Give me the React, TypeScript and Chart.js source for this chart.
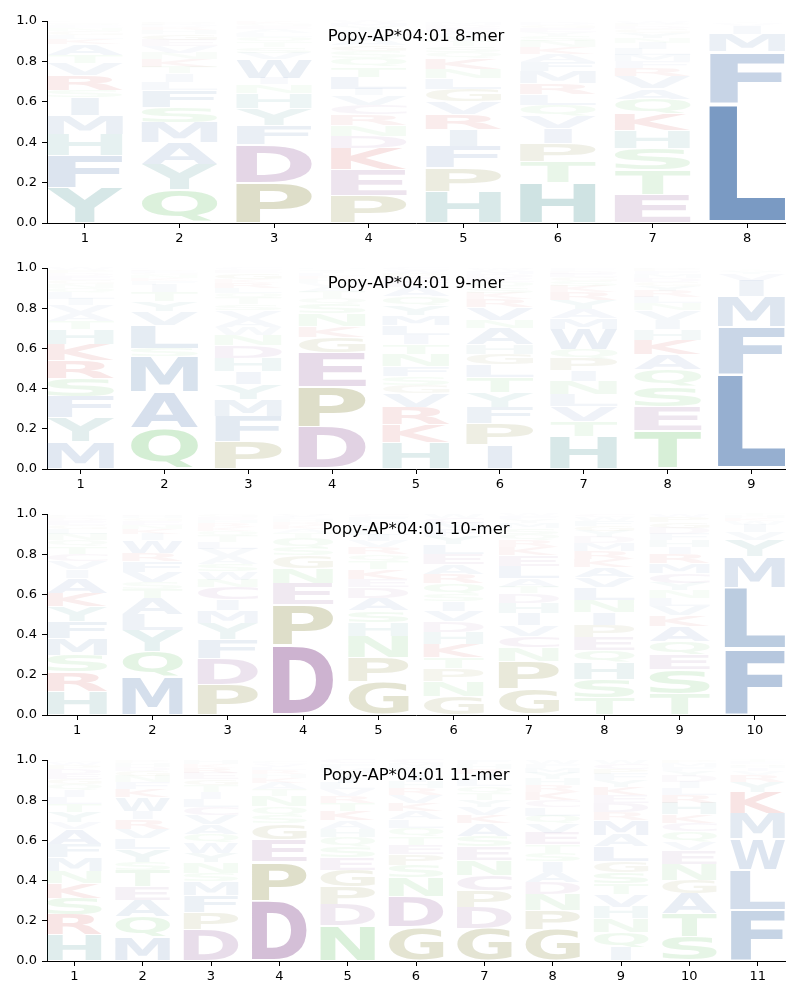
import React, { useEffect, useRef } from "react";
import { Chart, registerables } from "chart.js";

Chart.register(...registerables);

// ---------- data (letters bottom -> top, heights = probabilities) ----------
const yTickValues = [0, 0.2, 0.4, 0.6, 0.8, 1.0];

const mer8Title = "Popy-AP*04:01 8-mer";
const mer8Positions = [1, 2, 3, 4, 5, 6, 7, 8];
const mer8Letters = [
  "YFHMISRVTAKLGNEQDP",
  "QYAMSFLITKNVEGHRDPW",
  "PDFYHNIWVSTQLAEGKR",
  "PEKDNRCVILTQSGAHFYMW",
  "HPFIRVGLNKQSTYAEDMWC",
  "HTPIVQLRMFAKNSYEGDWC",
  "ETSHKQAVRFMLINYGDPWC",
  "LFMIVYW",
];
const mer8Heights = [
  [0.175, 0.16, 0.105, 0.095, 0.085, 0.037, 0.075, 0.058, 0.042, 0.053, 0.025, 0.02, 0.02, 0.015, 0.012, 0.01, 0.008, 0.005],
  [0.163, 0.126, 0.11, 0.1, 0.074, 0.084, 0.042, 0.042, 0.032, 0.037, 0.03, 0.035, 0.03, 0.03, 0.02, 0.015, 0.012, 0.01, 0.008],
  [0.2, 0.19, 0.095, 0.084, 0.074, 0.042, 0.032, 0.095, 0.03, 0.03, 0.025, 0.025, 0.02, 0.018, 0.015, 0.012, 0.01, 0.005],
  [0.137, 0.126, 0.105, 0.063, 0.053, 0.053, 0.047, 0.047, 0.03, 0.062, 0.05, 0.04, 0.035, 0.03, 0.03, 0.025, 0.02, 0.02, 0.015, 0.012],
  [0.158, 0.115, 0.105, 0.084, 0.074, 0.063, 0.063, 0.053, 0.047, 0.053, 0.03, 0.03, 0.025, 0.025, 0.02, 0.018, 0.015, 0.012, 0.005, 0.005],
  [0.2, 0.105, 0.09, 0.074, 0.063, 0.053, 0.053, 0.053, 0.058, 0.047, 0.04, 0.035, 0.03, 0.025, 0.02, 0.02, 0.015, 0.01, 0.005, 0.004],
  [0.142, 0.12, 0.105, 0.09, 0.084, 0.074, 0.05, 0.06, 0.04, 0.035, 0.03, 0.03, 0.03, 0.025, 0.025, 0.02, 0.015, 0.01, 0.01, 0.005],
  [0.595, 0.253, 0.087, 0.042, 0.012, 0.006, 0.005],
];

const mer9Title = "Popy-AP*04:01 9-mer";
const mer9Positions = [1, 2, 3, 4, 5, 6, 7, 8, 9];
const mer9Letters = [
  "MYFSRKHTAVILQNGEDPW",
  "QAMSLVYTIFKNGERD",
  "PFMYIHDNWAVSTQLRKGEC",
  "DPEGKNSQTAVHRLIFM",
  "HKRVGSFNTILMYQAEDPWC",
  "IPFYTLGHANVRKSQEDMWC",
  "HTVLNIPQWMAYRKSGEDFC",
  "TESQAKHIVNLRYGDMFPW",
  "LFMIVYWTC",
];
const mer9Heights = [
  [0.134, 0.12, 0.105, 0.09, 0.09, 0.08, 0.074, 0.042, 0.04, 0.04, 0.03, 0.03, 0.025, 0.02, 0.02, 0.02, 0.015, 0.015, 0.01],
  [0.205, 0.18, 0.173, 0.042, 0.115, 0.068, 0.05, 0.045, 0.037, 0.02, 0.015, 0.015, 0.012, 0.01, 0.008, 0.005],
  [0.137, 0.126, 0.084, 0.074, 0.063, 0.068, 0.063, 0.053, 0.037, 0.042, 0.042, 0.03, 0.03, 0.025, 0.025, 0.025, 0.02, 0.03, 0.015, 0.01],
  [0.21, 0.2, 0.168, 0.079, 0.053, 0.063, 0.047, 0.03, 0.03, 0.025, 0.02, 0.02, 0.015, 0.015, 0.01, 0.008, 0.007],
  [0.13, 0.09, 0.085, 0.07, 0.042, 0.042, 0.05, 0.06, 0.05, 0.045, 0.05, 0.05, 0.05, 0.045, 0.045, 0.025, 0.025, 0.02, 0.015, 0.01],
  [0.12, 0.105, 0.084, 0.074, 0.074, 0.063, 0.053, 0.047, 0.079, 0.042, 0.063, 0.04, 0.03, 0.03, 0.025, 0.02, 0.02, 0.015, 0.01, 0.006],
  [0.163, 0.074, 0.074, 0.058, 0.068, 0.053, 0.058, 0.047, 0.1, 0.053, 0.045, 0.045, 0.04, 0.03, 0.025, 0.02, 0.017, 0.015, 0.01, 0.005],
  [0.19, 0.12, 0.1, 0.084, 0.074, 0.074, 0.053, 0.047, 0.047, 0.035, 0.03, 0.03, 0.025, 0.02, 0.02, 0.02, 0.015, 0.01, 0.006],
  [0.47, 0.24, 0.147, 0.079, 0.032, 0.015, 0.007, 0.005, 0.005],
];

const mer10Title = "Popy-AP*04:01 10-mer";
const mer10Positions = [1, 2, 3, 4, 5, 6, 7, 8, 9, 10];
const mer10Letters = [
  "HRSMFYKAIVCTQNLGEDPW",
  "MQYLATSVFRWIKNEGHDC",
  "PDFYMICNWSAVLTQKRHEG",
  "DPENGSQTAKRHLVC",
  "GPNHSADEKTQRVILYMFC",
  "GNPTKHDVISQRAELYFMCW",
  "GPNCVIHDTALEKRQSMYFW",
  "TSHQEPINLVAKRMDYGFWC",
  "TSEQAKVLNYCMRIHFDGPW",
  "FLMYVIWKHT",
];
const mer10Heights = [
  [0.118, 0.095, 0.084, 0.084, 0.084, 0.074, 0.068, 0.074, 0.042, 0.042, 0.037, 0.037, 0.03, 0.03, 0.025, 0.02, 0.02, 0.015, 0.012, 0.009],
  [0.19, 0.126, 0.105, 0.079, 0.079, 0.047, 0.032, 0.053, 0.053, 0.042, 0.063, 0.03, 0.025, 0.02, 0.02, 0.015, 0.01, 0.006, 0.005],
  [0.152, 0.131, 0.095, 0.079, 0.063, 0.053, 0.063, 0.037, 0.042, 0.037, 0.037, 0.037, 0.035, 0.03, 0.025, 0.02, 0.02, 0.015, 0.015, 0.01],
  [0.35, 0.2, 0.105, 0.074, 0.063, 0.042, 0.047, 0.025, 0.02, 0.02, 0.015, 0.012, 0.01, 0.01, 0.007],
  [0.168, 0.12, 0.105, 0.068, 0.058, 0.063, 0.053, 0.042, 0.047, 0.04, 0.035, 0.035, 0.03, 0.03, 0.025, 0.025, 0.02, 0.02, 0.016],
  [0.095, 0.074, 0.063, 0.053, 0.068, 0.058, 0.053, 0.053, 0.047, 0.037, 0.053, 0.047, 0.047, 0.053, 0.05, 0.04, 0.035, 0.03, 0.025, 0.02],
  [0.13, 0.137, 0.068, 0.058, 0.053, 0.058, 0.053, 0.047, 0.032, 0.042, 0.063, 0.053, 0.04, 0.035, 0.03, 0.03, 0.025, 0.02, 0.015, 0.011],
  [0.084, 0.095, 0.084, 0.058, 0.068, 0.058, 0.063, 0.063, 0.063, 0.05, 0.05, 0.04, 0.04, 0.04, 0.03, 0.03, 0.025, 0.025, 0.02, 0.014],
  [0.105, 0.12, 0.074, 0.068, 0.074, 0.053, 0.047, 0.042, 0.037, 0.037, 0.047, 0.05, 0.045, 0.035, 0.035, 0.03, 0.03, 0.03, 0.025, 0.015],
  [0.33, 0.305, 0.152, 0.084, 0.037, 0.037, 0.02, 0.015, 0.01, 0.01],
];

const mer11Title = "Popy-AP*04:01 11-mer";
const mer11Positions = [1, 2, 3, 4, 5, 6, 7, 8, 9, 10, 11];
const mer11Letters = [
  "HRSKNMFAVYTLIQGEDPWC",
  "MQAETSYLVRIWKFNGDHPC",
  "DPFMSNYWQAVCLITGERKH",
  "DPEGSQNTAKHRLVCF",
  "NDPGESQHAKTRVLIYMFC",
  "GDNSPETQLAKVRHIYFMC",
  "GDPCNESAKVYTQLIRHF",
  "GPNDAISTEVQLCKRHYMFW",
  "IQNHVTSGLAMRDEKYFPCW",
  "STAGNEVQCKHRLIDYFMP",
  "FLWMKYRVIHQET",
];
const mer11Heights = [
  [0.13, 0.1, 0.084, 0.074, 0.058, 0.068, 0.068, 0.074, 0.032, 0.053, 0.04, 0.035, 0.035, 0.03, 0.025, 0.025, 0.025, 0.02, 0.015, 0.009],
  [0.12, 0.1, 0.084, 0.068, 0.079, 0.042, 0.063, 0.053, 0.047, 0.047, 0.042, 0.068, 0.04, 0.035, 0.03, 0.025, 0.02, 0.02, 0.012, 0.005],
  [0.158, 0.084, 0.084, 0.068, 0.042, 0.053, 0.047, 0.053, 0.042, 0.047, 0.047, 0.04, 0.04, 0.035, 0.035, 0.03, 0.03, 0.025, 0.02, 0.02],
  [0.3, 0.195, 0.11, 0.079, 0.042, 0.042, 0.053, 0.035, 0.03, 0.025, 0.02, 0.02, 0.015, 0.015, 0.01, 0.009],
  [0.174, 0.105, 0.09, 0.084, 0.063, 0.053, 0.047, 0.042, 0.042, 0.047, 0.04, 0.035, 0.035, 0.03, 0.03, 0.025, 0.02, 0.02, 0.018],
  [0.168, 0.152, 0.095, 0.063, 0.053, 0.047, 0.042, 0.042, 0.042, 0.042, 0.037, 0.04, 0.035, 0.03, 0.03, 0.025, 0.02, 0.02, 0.017],
  [0.163, 0.105, 0.084, 0.074, 0.074, 0.068, 0.053, 0.063, 0.042, 0.04, 0.035, 0.035, 0.035, 0.03, 0.03, 0.025, 0.024, 0.02],
  [0.158, 0.095, 0.079, 0.058, 0.053, 0.053, 0.042, 0.042, 0.058, 0.047, 0.037, 0.042, 0.037, 0.04, 0.035, 0.03, 0.03, 0.025, 0.02, 0.019],
  [0.068, 0.074, 0.068, 0.058, 0.063, 0.053, 0.058, 0.053, 0.074, 0.058, 0.074, 0.037, 0.047, 0.04, 0.04, 0.035, 0.03, 0.025, 0.025, 0.02],
  [0.12, 0.115, 0.1, 0.068, 0.079, 0.068, 0.042, 0.053, 0.042, 0.042, 0.058, 0.04, 0.035, 0.03, 0.03, 0.025, 0.02, 0.02, 0.013],
  [0.255, 0.2, 0.152, 0.126, 0.105, 0.053, 0.032, 0.02, 0.015, 0.01, 0.01, 0.01, 0.012],
];

// ---------- styling ----------
const GROUP_COLORS: Record<string, [number, number, number]> = {
  blue: [45, 95, 160],
  teal: [30, 123, 123],
  green: [55, 175, 55],
  olive: [100, 100, 0],
  purple: [120, 52, 128],
  red: [190, 10, 10],
};
const LETTER_GROUP: Record<string, string> = {
  A: "blue", F: "blue", I: "blue", L: "blue", M: "blue", V: "blue", W: "blue",
  H: "teal", Y: "teal",
  N: "green", Q: "green", S: "green", T: "green",
  G: "olive", P: "olive",
  D: "purple", E: "purple", C: "purple",
  K: "red", R: "red",
};

const CANVAS_W = 800;
const CANVAS_H = 246;
const PAD_TOP = 21;
const VPAD = 0.05;
const GLYPH_FONT = "bold 200px 'DejaVu Sans'";

function letterColor(ch: string, v: number) {
  const c = GROUP_COLORS[LETTER_GROUP[ch] || "blue"];
  const a = Math.min(1, v * 1.06);
  return `rgba(${c[0]},${c[1]},${c[2]},${a})`;
}

function makeLogoPlugin(title: string) {
  return {
    id: "logoGlyphs",
    afterDatasetsDraw(chart: any) {
      const ctx: CanvasRenderingContext2D = chart.ctx;
      const area = chart.chartArea;
      ctx.save();
      ctx.font = GLYPH_FONT;
      ctx.textAlign = "left";
      ctx.textBaseline = "alphabetic";
      const em = ctx.measureText("E");
      const eW = em.actualBoundingBoxLeft + em.actualBoundingBoxRight;
      chart.data.datasets.forEach((ds: any, di: number) => {
        const meta = chart.getDatasetMeta(di);
        meta.data.forEach((el: any, j: number) => {
          const ch = ds.letters[j];
          const v = ds.data[j].y;
          if (!ch || !v) return;
          const p = el.getProps(["x", "y", "base", "width"], true);
          const h = p.base - p.y;
          const top = p.y + (h * VPAD) / 2;
          const hh = h * (1 - VPAD);
          const w = p.width;
          const m = ctx.measureText(ch);
          const gl = m.actualBoundingBoxLeft;
          const gw = gl + m.actualBoundingBoxRight;
          const ga = m.actualBoundingBoxAscent;
          const gh = ga + m.actualBoundingBoxDescent;
          const sx = Math.min(w / gw, w / eW);
          const sy = hh / gh;
          const dw = gw * sx;
          ctx.save();
          ctx.fillStyle = letterColor(ch, v);
          ctx.translate(p.x - dw / 2, top);
          ctx.scale(sx, sy);
          ctx.fillText(ch, gl, ga);
          ctx.restore();
        });
      });
      ctx.font = "16.5px 'DejaVu Sans'";
      ctx.fillStyle = "#000";
      ctx.textAlign = "center";
      ctx.textBaseline = "alphabetic";
      ctx.fillText(title, (area.left + area.right) / 2, area.top + 20);
      ctx.restore();
    },
  };
}

type PanelProps = {
  title: string;
  positions: number[];
  letters: string[];
  heights: number[][];
  top: number;
  plotHeight: number;
};

function LogoPanel({ title, positions, letters, heights, top, plotHeight }: PanelProps) {
  const ref = useRef<HTMLCanvasElement | null>(null);
  useEffect(() => {
    if (!ref.current) return;
    const depth = Math.max(...letters.map((s) => s.length));
    const datasets: any[] = [];
    for (let r = 0; r < depth; r++) {
      datasets.push({
        data: positions.map((p, c) => ({ x: p, y: heights[c][r] ?? 0 })),
        letters: letters.map((s) => s[r] ?? ""),
        backgroundColor: "rgba(0,0,0,0)",
        borderWidth: 0,
        categoryPercentage: 0.8,
        barPercentage: 1.0,
      });
    }
    const n = positions.length;
    const xAxisH = CANVAS_H - PAD_TOP - plotHeight;
    const tickFont = { family: "'DejaVu Sans'", size: 13 };
    const chart = new Chart(ref.current, {
      type: "bar",
      data: { datasets },
      options: {
        responsive: false,
        animation: false,
        events: [],
        layout: { padding: { top: PAD_TOP, right: 15, left: 0, bottom: 0 } },
        plugins: {
          legend: { display: false },
          tooltip: { enabled: false },
          title: { display: false },
        },
        scales: {
          x: {
            type: "linear",
            min: positions[0] - 0.4,
            max: positions[n - 1] + 0.4,
            offset: false,
            stacked: true,
            afterBuildTicks: (s: any) => {
              s.ticks = positions.map((v) => ({ value: v }));
            },
            afterFit: (s: any) => {
              s.height = xAxisH;
            },
            ticks: {
              color: "#000",
              font: tickFont,
              padding: 3,
              autoSkip: false,
              maxRotation: 0,
              callback: (v: any) => String(v),
            },
            grid: {
              offset: false,
              drawOnChartArea: false,
              drawTicks: true,
              tickLength: 5,
              color: "#000",
              lineWidth: 1,
            },
            border: { display: true, color: "#000", width: 1 },
          },
          y: {
            type: "linear",
            min: 0,
            max: 1,
            stacked: true,
            afterBuildTicks: (s: any) => {
              s.ticks = yTickValues.map((v) => ({ value: v }));
            },
            afterFit: (s: any) => {
              s.width = 47;
            },
            ticks: {
              color: "#000",
              font: tickFont,
              padding: 5,
              callback: (v: any) => Number(v).toFixed(1),
            },
            grid: {
              drawOnChartArea: false,
              drawTicks: true,
              tickLength: 5,
              color: "#000",
              lineWidth: 1,
            },
            border: { display: true, color: "#000", width: 1 },
          },
        },
      } as any,
      plugins: [makeLogoPlugin(title)],
    });
    return () => chart.destroy();
  }, []);
  return (
    <canvas
      ref={ref}
      width={CANVAS_W}
      height={CANVAS_H}
      style={{ position: "absolute", left: 0, top, width: CANVAS_W, height: CANVAS_H }}
    />
  );
}

export default function App() {
  return (
    <div style={{ position: "absolute", left: 0, top: 0, width: 800, height: 1000, background: "#fff" }}>
      <LogoPanel title={mer8Title} positions={mer8Positions} letters={mer8Letters} heights={mer8Heights} top={0} plotHeight={202} />
      <LogoPanel title={mer9Title} positions={mer9Positions} letters={mer9Letters} heights={mer9Heights} top={247} plotHeight={201} />
      <LogoPanel title={mer10Title} positions={mer10Positions} letters={mer10Letters} heights={mer10Heights} top={493} plotHeight={201} />
      <LogoPanel title={mer11Title} positions={mer11Positions} letters={mer11Letters} heights={mer11Heights} top={739} plotHeight={201} />
    </div>
  );
}
